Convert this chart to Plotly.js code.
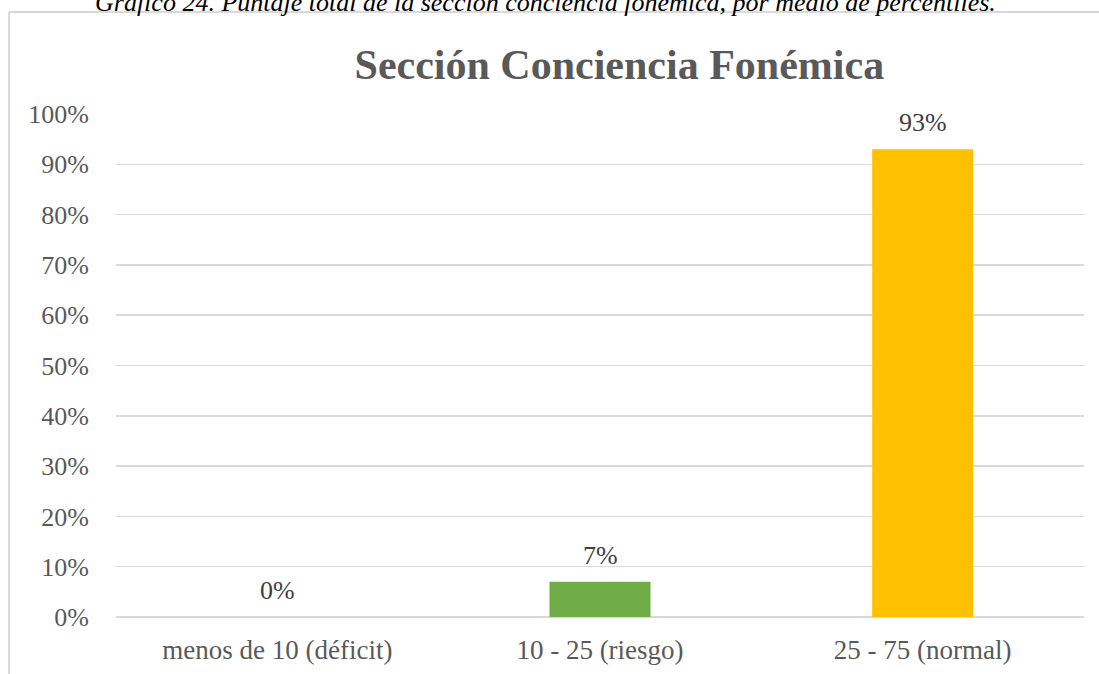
<!DOCTYPE html>
<html>
<head>
<meta charset="utf-8">
<script src="https://cdn.plot.ly/plotly-3.0.1.min.js"></script>
<style>
  body { margin: 0; background: #fff; }
  #chart { width: 1099px; height: 674px; }
</style>
</head>
<body>
<div id="chart"></div>
<script>
// Datos del gráfico
var categorias = ['menos de 10 (déficit)', '10 - 25 (riesgo)', '25 - 75 (normal)'];
var porcentajes = [0, 7, 93];
var colores = ['#4472C4', '#70AD47', '#FFC000'];
var etiquetasY = ['0%', '10%', '20%', '30%', '40%', '50%', '60%', '70%', '80%', '90%', '100%'];
var valoresY = [0, 10, 20, 30, 40, 50, 60, 70, 80, 90, 100];

var serif = 'Liberation Serif, Times New Roman, serif';

var barras = {
  x: categorias,
  y: porcentajes,
  type: 'bar',
  width: 0.313,
  marker: { color: colores },
  hoverinfo: 'none'
};

// etiquetas de datos encima de cada barra
var etiquetas = categorias.map(function(c, i) {
  return {
    x: c,
    y: porcentajes[i],
    xref: 'x',
    yref: 'y',
    text: porcentajes[i] + '%',
    showarrow: false,
    yanchor: 'bottom',
    yshift: 10,
    font: { family: serif, size: 26, color: '#404040' }
  };
});

// leyenda de la figura (cortada arriba, como en el original)
etiquetas.push({
  xref: 'paper',
  yref: 'paper',
  x: 0.444,
  y: 1.222,
  xanchor: 'center',
  yanchor: 'middle',
  showarrow: false,
  text: '<i>Gráfico 24. Puntaje total de la sección conciencia fonémica, por medio de percentiles.</i>',
  font: { family: serif, size: 26, color: '#000000' }
});

var layout = {
  width: 1099,
  height: 674,
  margin: { l: 116, r: 15, t: 114, b: 57 },
  paper_bgcolor: '#ffffff',
  plot_bgcolor: '#ffffff',
  showlegend: false,
  title: {
    text: '<b>Sección Conciencia Fonémica</b>',
    font: { family: serif, size: 42, color: '#595959' },
    x: 0.52,
    xref: 'paper',
    xanchor: 'center',
    y: 0.905,
    yref: 'container',
    yanchor: 'middle'
  },
  xaxis: {
    tickfont: { family: serif, size: 27, color: '#595959' },
    showline: false,
    ticks: '',
    ticklabelstandoff: 14,
    fixedrange: true
  },
  yaxis: {
    range: [0, 100],
    tickvals: valoresY,
    ticktext: etiquetasY,
    tickfont: { family: serif, size: 26, color: '#595959' },
    gridcolor: '#d9d9d9',
    gridwidth: 1.5,
    zeroline: true,
    zerolinecolor: '#d9d9d9',
    zerolinewidth: 1.5,
    ticks: '',
    ticklabelstandoff: 26,
    fixedrange: true
  },
  annotations: etiquetas,
  shapes: [
    // borde del área del gráfico
    { type: 'line', xref: 'paper', yref: 'paper', x0: -0.1105, x1: -0.1105, y0: -0.2, y1: 1.2028,
      line: { color: '#d9d9d9', width: 2 } },
    { type: 'line', xref: 'paper', yref: 'paper', x0: -0.1105, x1: 1.1, y0: 1.2028, y1: 1.2028,
      line: { color: '#d9d9d9', width: 2 } }
  ]
};

Plotly.newPlot('chart', [barras], layout, { displayModeBar: false, staticPlot: true });
</script>
</body>
</html>
